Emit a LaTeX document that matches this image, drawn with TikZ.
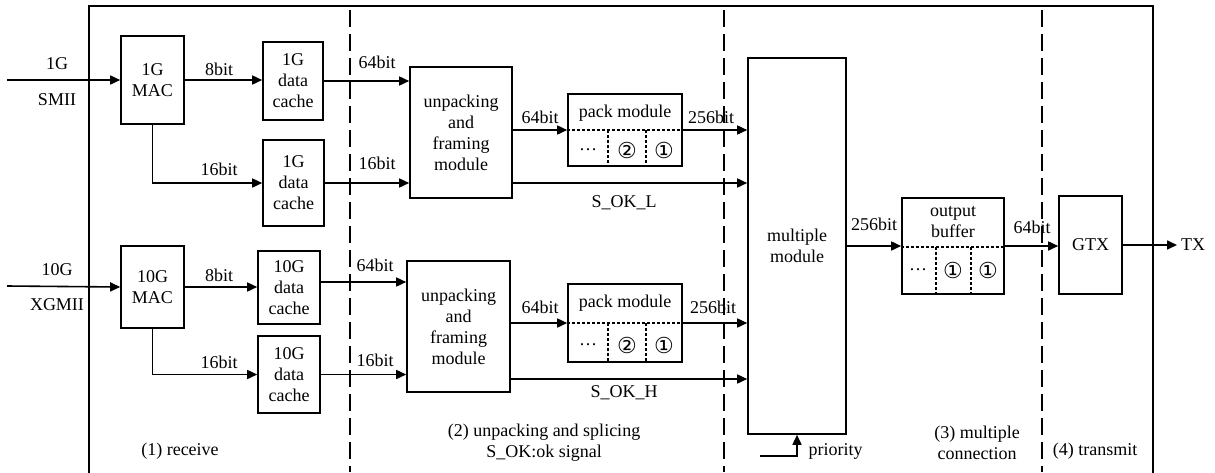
\documentclass[tikz,border=0pt]{standalone}
\usepackage{fontspec}
\setmainfont{Liberation Serif}
\newfontfamily\circfont{DejaVu Sans}
\usepackage{tikz}
\usetikzlibrary{positioning}
\usetikzlibrary{arrows.meta}

\tikzset{
    blk/.style={draw,line width=1.6pt,align=center,inner sep=0pt},
    flow/.style={line width=1.6pt,-{Triangle[length=10pt,width=9pt]}},
    stage/.style={line width=1.6pt,dash pattern=on 17pt off 7pt},
    cell/.style={line width=1.5pt,dash pattern=on 3pt off 2pt},
}
\newcommand{\cnum}[1]{{\circfont\fontsize{22}{22}\selectfont #1}}

\begin{document}
\begin{tikzpicture}[x=1pt,y=-1pt,font=\fontsize{18}{21}\selectfont]
            \useasboundingbox (0,0) rectangle (1215,472);
            \draw[line width=1.6pt] (89,480) -- (89,6) -- (1153,6) -- (1153,480);
            \draw[stage] (350,10) -- (350,472);
            \draw[stage] (724,10) -- (724,472);
            \draw[stage] (1042,10) -- (1042,472);

            % 1G path
            \node [blk,minimum width=63,minimum height=88](mac1g) at (152.5,80){1G\\MAC};
            \node [blk,minimum width=60,minimum height=78](cache1ga) at (293,81){1G\\data\\cache};
            \node [blk,minimum width=61,minimum height=86](cache1gb) at (293.5,183){1G\\data\\cache};
            \node [blk,minimum width=102,minimum height=131](unpackL) at (461,132.5){unpacking\\and\\framing\\module};
            \node [blk,minimum width=114,minimum height=72](packL) at (625,130){};
            \node (packLt) at ([yshift=17pt]packL.center){pack module};
            \node (packLa) at ([xshift=-37pt,yshift=-20pt]packL.center){\dots};
            \node (packLb) at ([xshift=2pt,yshift=-20pt]packL.center){\cnum{②}};
            \node (packLc) at ([xshift=39pt,yshift=-20pt]packL.center){\cnum{①}};
            \draw[cell] (packL.west) -- (packL.east);
            \draw[cell] ([xshift=-17pt]packL.center) -- ([xshift=-17pt]packL.south);
            \draw[cell] ([xshift=21pt]packL.center) -- ([xshift=21pt]packL.south);

            % 10G path
            \node [blk,minimum width=63,minimum height=82](mac10g) at (152.5,287){10G\\MAC};
            \node [blk,minimum width=62,minimum height=73](cache10ga) at (289,287.5){10G\\data\\cache};
            \node [blk,minimum width=62,minimum height=77](cache10gb) at (289,374.5){10G\\data\\cache};
            \node [blk,minimum width=103,minimum height=131](unpackH) at (458.5,326.5){unpacking\\and\\framing\\module};
            \node [blk,minimum width=114,minimum height=78](packH) at (625,323){};
            \node (packHt) at ([yshift=20pt]packH.center){pack module};
            \node (packHa) at ([xshift=-37pt,yshift=-22pt]packH.center){\dots};
            \node (packHb) at ([xshift=2pt,yshift=-22pt]packH.center){\cnum{②}};
            \node (packHc) at ([xshift=39pt,yshift=-22pt]packH.center){\cnum{①}};
            \draw[cell] (packH.west) -- (packH.east);
            \draw[cell] ([xshift=-17pt]packH.center) -- ([xshift=-17pt]packH.south);
            \draw[cell] ([xshift=21pt]packH.center) -- ([xshift=21pt]packH.south);

            \node [blk,minimum width=98,minimum height=376](mult) at (797,246){multiple\\module};
            \node [blk,minimum width=102,minimum height=96](outbuf) at (953,246){};
            \node [align=center](outbuft) at ([yshift=24pt]outbuf.center){output\\buffer};
            \node (outbufa) at ([xshift=-35pt,yshift=-24pt]outbuf.center){\dots};
            \node (outbufb) at ([yshift=-24pt]outbuf.center){\cnum{①}};
            \node (outbufc) at ([xshift=35pt,yshift=-24pt]outbuf.center){\cnum{①}};
            \draw[cell] ([yshift=-1pt]outbuf.west) -- ([yshift=-1pt]outbuf.east);
            \draw[cell] ([xshift=-17pt,yshift=-1pt]outbuf.center) -- ([xshift=-17pt]outbuf.south);
            \draw[cell] ([xshift=18pt,yshift=-1pt]outbuf.center) -- ([xshift=18pt]outbuf.south);
            \node [blk,minimum width=63,minimum height=98](gtx) at (1090.5,245){GTX};
            \node [anchor=west,inner sep=4pt](tx) at (1177,245){TX};

            \coordinate (in1g) at (7,80);
            \coordinate (in10g) at (7,286);
            \coordinate (hi64) at ([yshift=5.5pt]cache10ga.east);
            \coordinate (okL) at ([yshift=-50.5pt]unpackL.east);
            \coordinate (okH) at ([yshift=-52.5pt]unpackH.east);
            \coordinate (prio) at (760,456);

            \draw[flow] (in1g) -- (mac1g.west);
            \draw[flow] (mac1g.east) -- (mac1g.east -| cache1ga.west);
            \draw[flow] (mac1g.south) |- (cache1gb.west);
            \draw[flow] (cache1ga.east) -- (cache1ga.east -| unpackL.west);
            \draw[flow] (cache1gb.east) -- (cache1gb.east -| unpackL.west);
            \draw[flow] (packL.west -| unpackL.east) -- (packL.west);
            \draw[flow] (packL.east) -- (packL.east -| mult.west);
            \draw[flow] (okL) -- (okL -| mult.west);

            \draw[flow] (in10g) -- (mac10g.west);
            \draw[flow] (mac10g.east) -- (mac10g.east -| cache10ga.west);
            \draw[flow] (mac10g.south) |- (cache10gb.west);
            \draw[flow] (hi64) -- (hi64 -| unpackH.west);
            \draw[flow] (cache10gb.east) -- (cache10gb.east -| unpackH.west);
            \draw[flow] (packH.west -| unpackH.east) -- (packH.west);
            \draw[flow] (packH.east) -- (packH.east -| mult.west);
            \draw[flow] (okH) -- (okH -| mult.west);

            \draw[flow] (outbuf.west -| mult.east) -- (outbuf.west);
            \draw[flow] (outbuf.east) -- (outbuf.east -| gtx.west);
            \draw[flow] (gtx.east) -- (tx.west);
            \draw[flow] (prio) -| (mult.south);

            \node at (57,64) {1G};
            \node at (57,100) {SMII};
            \node at (219,69) {8bit};
            \node at (219,169) {16bit};
            \node at (377,62) {64bit};
            \node at (377,163) {16bit};
            \node at (540,117) {64bit};
            \node at (711,117) {256bit};
            \node at (624,203) {S\_OK\_L};
            \node at (57,270) {10G};
            \node at (57,305) {XGMII};
            \node at (219,275) {8bit};
            \node at (219,362) {16bit};
            \node at (375,265) {64bit};
            \node at (375,360) {16bit};
            \node at (540,307) {64bit};
            \node at (713,307) {256bit};
            \node at (624,393) {S\_OK\_H};
            \node at (874,224) {256bit};
            \node at (1032,227) {64bit};
            \node [anchor=west] at (805,451) {priority};

            \node at (180,451) {(1) receive};
            \node [align=center] at (544,443) {(2) unpacking and splicing\\S\_OK:ok signal};
            \node [align=center] at (977,443) {(3) multiple\\connection};
            \node at (1095,451) {(4) transmit};
\end{tikzpicture}
\end{document}
